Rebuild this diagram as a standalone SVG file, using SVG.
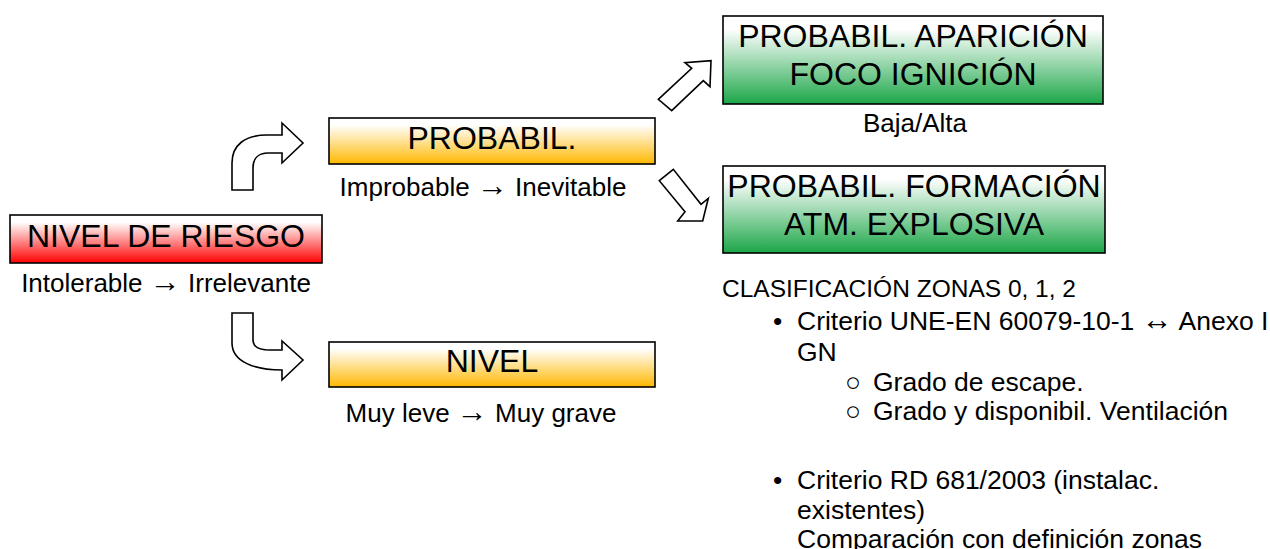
<svg xmlns="http://www.w3.org/2000/svg" width="1270" height="549" viewBox="0 0 1270 549">
<defs>
<linearGradient id="gRed" x1="0" y1="0" x2="0" y2="1"><stop offset="0" stop-color="#ffffff"/><stop offset="0.15" stop-color="#ffffff"/><stop offset="1" stop-color="#ff0000"/></linearGradient>
<linearGradient id="gOrange" x1="0" y1="0" x2="0" y2="1"><stop offset="0" stop-color="#ffffff"/><stop offset="0.15" stop-color="#ffffff"/><stop offset="1" stop-color="#ffb800"/></linearGradient>
<linearGradient id="gGreen" x1="0" y1="0" x2="0" y2="1"><stop offset="0" stop-color="#ffffff"/><stop offset="0.15" stop-color="#ffffff"/><stop offset="1" stop-color="#1ca648"/></linearGradient>
</defs>
<style>
.box{stroke:#000;stroke-width:1.6}
.big{font-family:"Liberation Sans",Arial,sans-serif;font-size:32px;fill:#000;text-anchor:middle}
.cap{font-family:"Liberation Sans",Arial,sans-serif;font-size:26px;fill:#000;text-anchor:middle}
.txt{font-family:"Liberation Sans",Arial,sans-serif;font-size:24.5px;fill:#000}
.li{font-family:"Liberation Sans",Arial,sans-serif;font-size:26.5px;fill:#000}
.ar{font-size:31px}
.arrow{fill:#fff;stroke:#000;stroke-width:1.6;stroke-linejoin:miter}
</style>
<g id="connectors">
<path class="arrow" d="M232,190 L232,163 C232,145 245,135 267,135 L282,135 L282,123 L303,143 L282,163 L282,153 L268,153 C259,153 253,158 253,168 L253,190 Z"/>
<path class="arrow" d="M232,313 L253,313 L253,340 C253,346 258,350 270,350 L282,350 L282,341 L303,360 L282,380 L282,370 C255,370 232,362 232,343 Z"/>
<path class="arrow" d="M658.3,99.3 L691.7,68.3 L685,62.7 L711,60.7 L710,86.7 L703.3,80.7 L671.7,110.7 Z"/>
<path class="arrow" d="M659.3,180.7 L673.3,169.3 L701,204.3 L708.3,198.3 L702.7,221 L677.7,221 L685,211.7 Z"/>
</g>
<g id="nivel-riesgo">
<rect class="box" x="10" y="215" width="312" height="48" fill="url(#gRed)"/>
<text class="big" x="166" y="247">NIVEL DE RIESGO</text>
<text class="cap" x="166" y="292">Intolerable <tspan class="ar">→</tspan> Irrelevante</text>
</g>
<g id="probabil">
<rect class="box" x="329" y="118" width="326" height="46" fill="url(#gOrange)"/>
<text class="big" x="492" y="149">PROBABIL.</text>
<text class="cap" x="483" y="196">Improbable <tspan class="ar">→</tspan> Inevitable</text>
</g>
<g id="nivel">
<rect class="box" x="329" y="342" width="326" height="45" fill="url(#gOrange)"/>
<text class="big" x="492" y="372">NIVEL</text>
<text class="cap" x="481" y="422">Muy leve <tspan class="ar">→</tspan> Muy grave</text>
</g>
<g id="aparicion">
<rect class="box" x="723" y="16" width="380" height="88" fill="url(#gGreen)"/>
<text class="big" x="913" y="47">PROBABIL. APARICIÓN</text>
<text class="big" x="913" y="85">FOCO IGNICIÓN</text>
<text class="cap" x="915" y="132">Baja/Alta</text>
</g>
<g id="formacion">
<rect class="box" x="723" y="166" width="382" height="87" fill="url(#gGreen)"/>
<text class="big" x="914" y="197">PROBABIL. FORMACIÓN</text>
<text class="big" x="914" y="235">ATM. EXPLOSIVA</text>
</g>
<g id="clasificacion">
<text class="txt" x="722" y="297">CLASIFICACIÓN ZONAS 0, 1, 2</text>
<text class="li" x="773" y="330">•</text>
<text class="li" x="797" y="330">Criterio UNE-EN 60079-10-1 <tspan class="ar">↔</tspan> Anexo I</text>
<text class="li" x="797" y="361">GN</text>
<text class="li" x="853" y="391" text-anchor="middle" font-size="22">○</text>
<text class="li" x="873" y="391">Grado de escape.</text>
<text class="li" x="853" y="420" text-anchor="middle" font-size="22">○</text>
<text class="li" x="873" y="420">Grado y disponibil. Ventilación</text>
<text class="li" x="773" y="489">•</text>
<text class="li" x="797" y="489">Criterio RD 681/2003 (instalac.</text>
<text class="li" x="797" y="519">existentes)</text>
<text class="li" x="797" y="548">Comparación con definición zonas</text>
</g>
</svg>
